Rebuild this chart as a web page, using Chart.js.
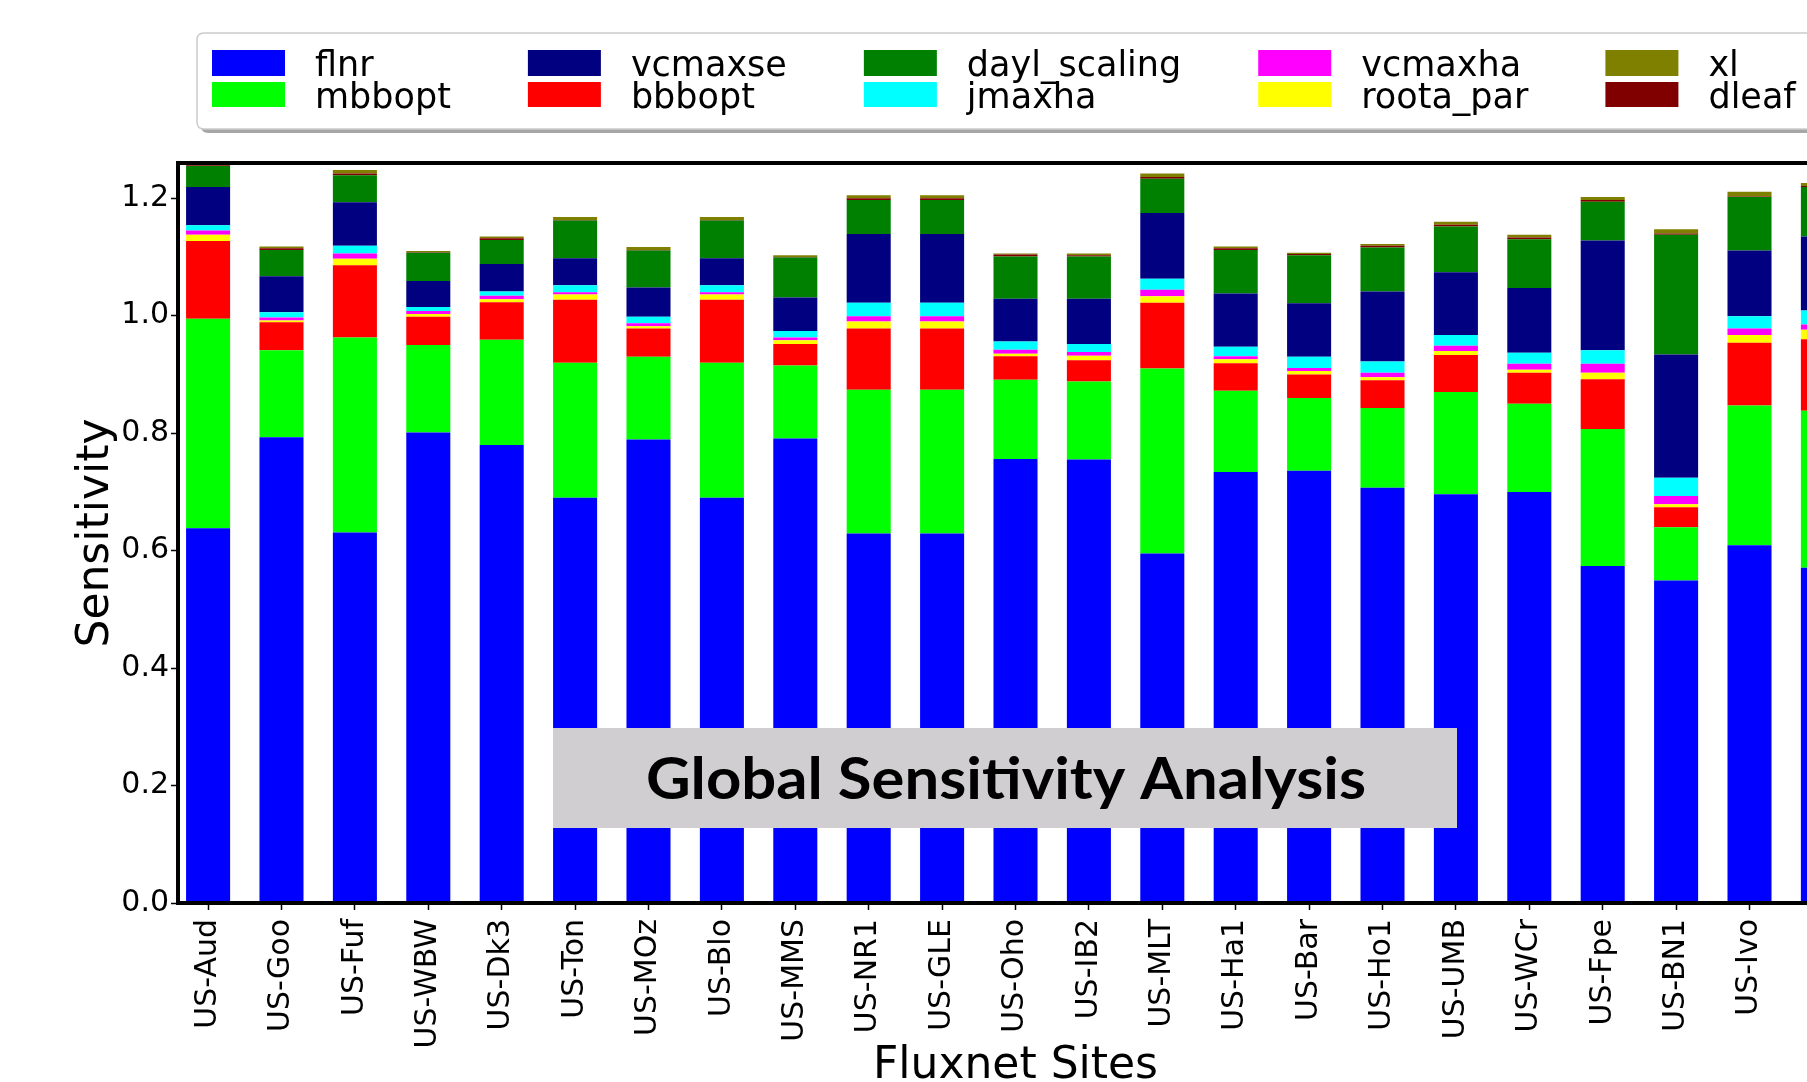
<!DOCTYPE html>
<html>
<head>
<meta charset="utf-8">
<title>Global Sensitivity Analysis</title>
<script src="https://cdn.jsdelivr.net/npm/chart.js@4.4.1/dist/chart.umd.min.js"></script>
<style>
  html, body { margin: 0; padding: 0; background: #fff; overflow: hidden; }
  #wrap { width: 1807px; height: 1082px; overflow: hidden; }
  canvas { display: block; }
</style>
</head>
<body>
<div id="wrap"><canvas id="gsa" width="1872" height="1082"></canvas></div>
<script>
  // ---- Data ------------------------------------------------
  const SITES = ['US-Aud', 'US-Goo', 'US-Fuf', 'US-WBW', 'US-Dk3', 'US-Ton', 'US-MOz', 'US-Blo',
    'US-MMS', 'US-NR1', 'US-GLE', 'US-Oho', 'US-IB2', 'US-MLT', 'US-Ha1', 'US-Bar', 'US-Ho1',
    'US-UMB', 'US-WCr', 'US-Fpe', 'US-BN1', 'US-Ivo', ''];

  // sensitivity per parameter and site, stacked bottom -> top in this order
  const FLNR      = [0.638, 0.793, 0.631, 0.801, 0.780, 0.690, 0.789, 0.690, 0.791, 0.629, 0.629, 0.756,
                     0.755, 0.595, 0.734, 0.736, 0.707, 0.696, 0.700, 0.574, 0.549, 0.609, 0.571];
  const MBBOPT    = [0.357, 0.148, 0.332, 0.149, 0.179, 0.230, 0.141, 0.230, 0.124, 0.245, 0.245, 0.135,
                     0.133, 0.315, 0.138, 0.124, 0.136, 0.174, 0.150, 0.233, 0.091, 0.238, 0.267];
  const BBBOPT    = [0.132, 0.048, 0.123, 0.048, 0.064, 0.107, 0.048, 0.107, 0.037, 0.104, 0.104, 0.040,
                     0.036, 0.112, 0.047, 0.040, 0.047, 0.063, 0.053, 0.085, 0.034, 0.107, 0.122];
  const ROOTA_PAR = [0.011, 0.003, 0.011, 0.005, 0.005, 0.009, 0.004, 0.009, 0.006, 0.012, 0.012, 0.004,
                     0.008, 0.011, 0.007, 0.006, 0.005, 0.007, 0.005, 0.011, 0.005, 0.013, 0.016];
  const VCMAXHA   = [0.007, 0.005, 0.009, 0.005, 0.006, 0.004, 0.005, 0.004, 0.005, 0.009, 0.009, 0.007,
                     0.006, 0.011, 0.005, 0.005, 0.008, 0.009, 0.010, 0.015, 0.014, 0.011, 0.009];
  const JMAXHA    = [0.009, 0.009, 0.013, 0.007, 0.007, 0.012, 0.011, 0.012, 0.011, 0.023, 0.023, 0.014,
                     0.014, 0.019, 0.016, 0.019, 0.019, 0.018, 0.019, 0.023, 0.031, 0.021, 0.024];
  const VCMAXSE   = [0.065, 0.061, 0.074, 0.044, 0.047, 0.046, 0.050, 0.046, 0.057, 0.117, 0.117, 0.073,
                     0.077, 0.112, 0.091, 0.091, 0.119, 0.107, 0.110, 0.187, 0.210, 0.112, 0.126];
  const DAYL_SCALING = [0.036, 0.045, 0.046, 0.048, 0.041, 0.064, 0.063, 0.064, 0.068, 0.058, 0.058, 0.072,
                     0.072, 0.058, 0.074, 0.082, 0.075, 0.078, 0.083, 0.066, 0.204, 0.091, 0.084];
  const DLEAF     = [0.001, 0.003, 0.003, 0.001, 0.003, 0.001, 0.001, 0.001, 0.001, 0.003, 0.003, 0.003,
                     0.002, 0.003, 0.003, 0.002, 0.003, 0.003, 0.003, 0.003, 0.002, 0.001, 0.002];
  const XL        = [0.002, 0.003, 0.006, 0.002, 0.003, 0.005, 0.005, 0.005, 0.003, 0.005, 0.005, 0.002,
                     0.003, 0.006, 0.003, 0.002, 0.003, 0.005, 0.005, 0.005, 0.007, 0.008, 0.005];

  const STACK_ORDER = ['flnr', 'mbbopt', 'bbbopt', 'roota_par', 'vcmaxha', 'jmaxha', 'vcmaxse',
    'dayl_scaling', 'dleaf', 'xl'];
  const STACK_VALUES = [FLNR, MBBOPT, BBBOPT, ROOTA_PAR, VCMAXHA, JMAXHA, VCMAXSE, DAYL_SCALING, DLEAF, XL];
  // legend is filled column by column, two rows
  const LEGEND_ORDER = ['flnr', 'mbbopt', 'vcmaxse', 'bbbopt', 'dayl_scaling', 'jmaxha',
    'vcmaxha', 'roota_par', 'xl', 'dleaf'];

  const Y_MAX = 1.26;
  const Y_STEP = 0.2;

  const COLORS = {
    flnr: '#0000ff', mbbopt: '#00ff00', bbbopt: '#ff0000', roota_par: '#ffff00',
    vcmaxha: '#ff00ff', jmaxha: '#00ffff', vcmaxse: '#000080', dayl_scaling: '#008000',
    dleaf: '#800000', xl: '#808000',
  };

  const FONT = 'DejaVu Sans';

  // ---- Plugins ---------------------------------------------
  function roundRect(ctx, x, y, w, h, r) {
    ctx.beginPath();
    ctx.moveTo(x + r, y);
    ctx.lineTo(x + w - r, y);
    ctx.quadraticCurveTo(x + w, y, x + w, y + r);
    ctx.lineTo(x + w, y + h - r);
    ctx.quadraticCurveTo(x + w, y + h, x + w - r, y + h);
    ctx.lineTo(x + r, y + h);
    ctx.quadraticCurveTo(x, y + h, x, y + h - r);
    ctx.lineTo(x, y + r);
    ctx.quadraticCurveTo(x, y, x + r, y);
    ctx.closePath();
  }

  // matplotlib-like legend: 5 columns x 2 rows, fancy box with shadow
  const gridLegend = {
    id: 'gridLegend',
    afterDraw(chart) {
      const ctx = chart.ctx;
      const byLabel = {};
      chart.data.datasets.forEach((d) => { byLabel[d.label] = d.backgroundColor; });

      ctx.save();
      ctx.font = '35px "' + FONT + '"';
      const cols = [];
      for (let i = 0; i < LEGEND_ORDER.length; i += 2) cols.push(LEGEND_ORDER.slice(i, i + 2));

      const startX = 212, textGap = 103, colGap = 77;
      let x = startX;
      const xs = [];
      cols.forEach((col) => {
        xs.push(x);
        x += textGap + Math.max(...col.map((n) => ctx.measureText(n).width)) + colGap;
      });
      const boxL = 197, boxT = 33, boxB = 129;
      const boxR = x - colGap + 33;

      ctx.fillStyle = 'rgba(0,0,0,0.35)';
      roundRect(ctx, boxL + 4, boxT + 4, boxR - boxL, boxB - boxT, 7);
      ctx.fill();
      ctx.fillStyle = '#ffffff';
      ctx.strokeStyle = '#cccccc';
      ctx.lineWidth = 1.5;
      roundRect(ctx, boxL, boxT, boxR - boxL, boxB - boxT, 7);
      ctx.fill();
      ctx.stroke();

      const rows = [{ y: 50, h: 26, base: 76 }, { y: 82, h: 25, base: 107.5 }];
      ctx.textBaseline = 'alphabetic';
      ctx.textAlign = 'left';
      cols.forEach((col, c) => {
        col.forEach((name, r) => {
          ctx.fillStyle = byLabel[name];
          ctx.fillRect(xs[c], rows[r].y, 73, rows[r].h);
          ctx.fillStyle = '#000';
          ctx.fillText(name, xs[c] + textGap, rows[r].base);
        });
      });
      ctx.restore();
    },
  };

  // grey banner over the bars, then the four spines on top
  const bannerAndFrame = {
    id: 'bannerAndFrame',
    afterDatasetsDraw(chart) {
      const ctx = chart.ctx;
      const a = chart.chartArea;
      const text = 'Global Sensitivity Analysis';
      ctx.save();
      ctx.fillStyle = '#d0ced1';
      ctx.fillRect(553, 728, 904, 100);
      ctx.fillStyle = '#000';
      ctx.font = 'bold 57px Lato';
      ctx.textAlign = 'center';
      ctx.textBaseline = 'alphabetic';
      // widen the bold face a little so the line spans ~720px
      const sx = 720 / ctx.measureText(text).width;
      ctx.translate(1006, 799);
      ctx.scale(sx, 1);
      ctx.fillText(text, 0, 0);
      ctx.restore();

      ctx.save();
      ctx.strokeStyle = '#000';
      ctx.lineWidth = 4;
      ctx.strokeRect(a.left, a.top, a.right - a.left, a.bottom - a.top);
      ctx.restore();
    },
  };

  // ---- Chart -----------------------------------------------
  const datasets = STACK_ORDER.map((name, k) => ({
    label: name,
    data: STACK_VALUES[k].map((v, i) => ({ x: i, y: v })),
    backgroundColor: COLORS[name],
    borderWidth: 0,
    barPercentage: 0.6,
    categoryPercentage: 1.0,
  }));

  const tickGrid = {
    display: true,
    drawOnChartArea: false,
    drawTicks: true,
    offset: false,
    tickLength: 7,
    tickWidth: 1.5,
    tickColor: '#000',
  };

  new Chart(document.getElementById('gsa'), {
    type: 'bar',
    data: { datasets },
    options: {
      responsive: false,
      animation: false,
      events: [],
      layout: { padding: { top: 163, right: 19, left: 0, bottom: 0 } },
      plugins: { legend: { display: false }, tooltip: { enabled: false } },
      scales: {
        x: {
          type: 'linear',
          stacked: true,
          offset: false,
          min: -0.41,
          max: 22.41,
          grid: tickGrid,
          border: { display: false },
          ticks: {
            stepSize: 1,
            autoSkip: false,
            includeBounds: false,
            minRotation: 90,
            maxRotation: 90,
            padding: 9,
            color: '#000',
            font: { family: FONT, size: 30 },
            callback: (v) => (SITES[v] !== undefined ? SITES[v] : ''),
          },
          title: {
            display: true,
            text: 'Fluxnet Sites',
            color: '#000',
            font: { family: FONT, size: 44, lineHeight: 0.68 },
            padding: { top: 0, bottom: 0 },
          },
          afterFit: (s) => { s.height = 179; },
        },
        y: {
          stacked: true,
          min: 0,
          max: Y_MAX,
          grid: tickGrid,
          border: { display: false },
          ticks: {
            stepSize: Y_STEP,
            includeBounds: false,
            padding: 2,
            color: '#000',
            font: { family: FONT, size: 30 },
            callback: (v) => v.toFixed(1),
          },
          title: {
            display: true,
            text: 'Sensitivity',
            color: '#000',
            font: { family: FONT, size: 44, lineHeight: 0.9 },
            padding: { top: 77, bottom: 0 },
          },
          afterFit: (s) => { s.width = 178; },
        },
      },
    },
    plugins: [gridLegend, bannerAndFrame],
  });
</script>
</body>
</html>
